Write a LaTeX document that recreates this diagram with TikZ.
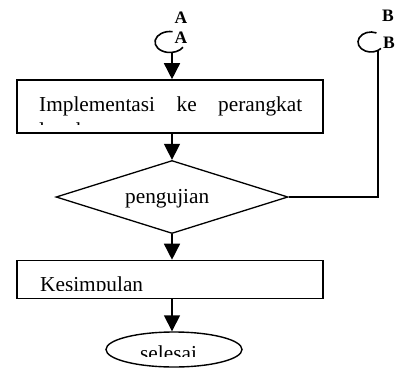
\documentclass[tikz,border=0pt]{standalone}
\usepackage{fontspec}
\setmainfont{Liberation Serif}
\usetikzlibrary{arrows.meta,shapes.geometric}
\tikzset{
  boxnode/.style={draw,line width=1.6bp,rectangle,inner sep=0pt},
  decnode/.style={draw,line width=1.3bp,diamond,inner sep=0pt},
  endnode/.style={draw,line width=1.4bp,ellipse,inner sep=0pt},
  txt/.style={inner sep=0pt,anchor=base west,font=\fontsize{21.3bp}{25bp}\selectfont},
  lbl/.style={inner sep=0pt,font=\fontsize{17.5bp}{19bp}\selectfont\bfseries},
  flow/.style={line width=1.5bp,-{Triangle[width=16bp,length=16bp]}},
  plain/.style={line width=1.6bp}
}
\begin{document}
\begin{tikzpicture}[x=1bp,y=-1bp]
\useasboundingbox (0,0) rectangle (398,368);
% connectors A and B
\coordinate (cA) at (170,42);
\coordinate (cB) at (371,42);
\coordinate (aEnd) at (172,52);
\coordinate (bEnd) at (378,51);
\draw[plain] ([shift={(80:15bp and 10.5bp)}]cA) arc[start angle=80,end angle=330,x radius=15bp,y radius=10.5bp];
\draw[plain] ([shift={(65:13bp and 10bp)}]cB) arc[start angle=65,end angle=320,x radius=13bp,y radius=10bp];
\node[lbl] (la1) at (181,17.5) {A};
\node[lbl] (la2) at (181,38) {A};
\node[lbl] (lb1) at (388,16) {B};
\node[lbl] (lb2) at (389,43) {B};
% boxes
\node[boxnode,minimum width=306bp,minimum height=53bp] (impl) at (170,106.5) {};
\node[decnode,minimum width=232bp,minimum height=73bp] (uji) at (172,197) {};
\node[boxnode,minimum width=306bp,minimum height=38bp] (kes) at (170,279.5) {};
\node[endnode,minimum width=136bp,minimum height=35bp] (sel) at (174,349.5) {};
% texts
\begin{scope}
\clip (17,81) rectangle (323,124.5);
\node[txt] (timpl) at (39,111) {\hbox to 263bp{Implementasi\hfill ke\hfill perangkat}};
\node[txt] (tlunak) at (39,137) {lunak};
\end{scope}
\node[txt] (tuji) at (125,203.5) {pengujian};
\begin{scope}
\clip (17,262) rectangle (323,290.5);
\node[txt] (tkes) at (40,291) {Kesimpulan};
\end{scope}
\begin{scope}
\clip (100,330) rectangle (250,356);
\node[txt] (tsel) at (140,360) {selesai};
\end{scope}
% flow lines
\draw[flow] (aEnd) -- (aEnd |- impl.north);
\draw[flow] (impl.south -| uji.north) -- (uji.north);
\draw[flow] (uji.south) -- (uji.south |- kes.north);
\draw[flow] (uji.south |- kes.south) -- (uji.south |- sel.north);
\draw[plain] (uji.east) -| (bEnd);
\end{tikzpicture}
\end{document}
